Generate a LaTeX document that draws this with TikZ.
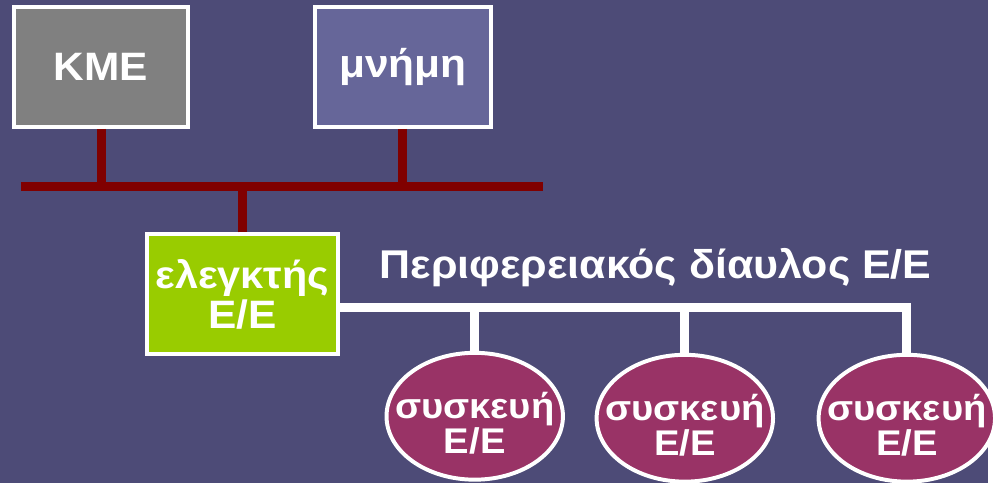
\documentclass[tikz,border=0pt]{standalone}
\usepackage{fontspec}
\setmainfont[FakeStretch=1.07]{Liberation Sans}
\usepackage{tikz}
\usetikzlibrary{shapes.geometric,positioning,calc}
\definecolor{fondo}{RGB}{77,75,119}
\definecolor{kmegray}{RGB}{128,128,128}
\definecolor{mnimi}{RGB}{102,102,153}
\definecolor{elegktis}{RGB}{153,204,0}
\definecolor{syskevi}{RGB}{153,51,102}
\definecolor{dialred}{RGB}{128,0,0}
\tikzstyle{blok}=[draw=white, line width=4pt, text=white, inner sep=0pt,
  align=center, minimum height=121pt, font=\bfseries\fontsize{40}{40}\selectfont]
\tikzstyle{texto}=[text=white, align=center, inner sep=0pt,
  font=\bfseries\fontsize{36}{32}\selectfont]
\tikzstyle{syskevi}=[blok, ellipse, fill=syskevi, minimum width=178pt,
  minimum height=128pt, label={[texto,yshift=-7pt]center:{συσκευή\\Ε/Ε}}]
\tikzstyle{bus} = [draw, line width=9pt, color=dialred]
\tikzstyle{pbus} = [draw, line width=9pt, color=white]
\newcommand{\blok}[4]{node (#1)[blok,fill=#2,minimum width=#3]{#4}}
\newcommand{\syskevi}[1]{node (d#1)[syskevi]{}}

\begin{document}
\begin{tikzpicture}[x=1pt,y=-1pt]

  % Background
  \fill[fondo] (0,0) rectangle (997,487);

  % Draw diagram elements
  \path (102,67.5) \blok{cpu}{kmegray}{176pt}{ΚΜΕ};
  \path (406.5,67.5) \blok{mem}{mnimi}{177pt}{μνήμη};
  \path (244.5,297) \blok{ctrl}{elegktis}{193pt}{\fontsize{39}{40}\selectfont ελεγκτής\\Ε/Ε};
  \path (479,420) \syskevi{1};
  \path (691,422) \syskevi{2};
  \path (915,422) \syskevi{3};
  \node (plabel) [text=white, font=\bfseries\fontsize{40.5}{40}\selectfont] at (661.5,270) {Περιφερειακός δίαυλος Ε/Ε};

  \coordinate (bl) at (21,188);
  \coordinate (br) at (548,188);
  \path (ctrl.east)+(0,13) coordinate (pb);

  % Draw buses between elements
  \path [bus] (bl) -- (br);
  \path [bus] (cpu.south) -- (cpu.south |- bl);
  \path [bus] (mem.south) -- (mem.south |- bl);
  \path [bus] (ctrl.north) -- (ctrl.north |- bl);
  \path [pbus] (pb) -| (d3.north);
  \path [pbus] (d1.north) -- (d1.north |- pb);
  \path [pbus] (d2.north) -- (d2.north |- pb);

\end{tikzpicture}
\end{document}
